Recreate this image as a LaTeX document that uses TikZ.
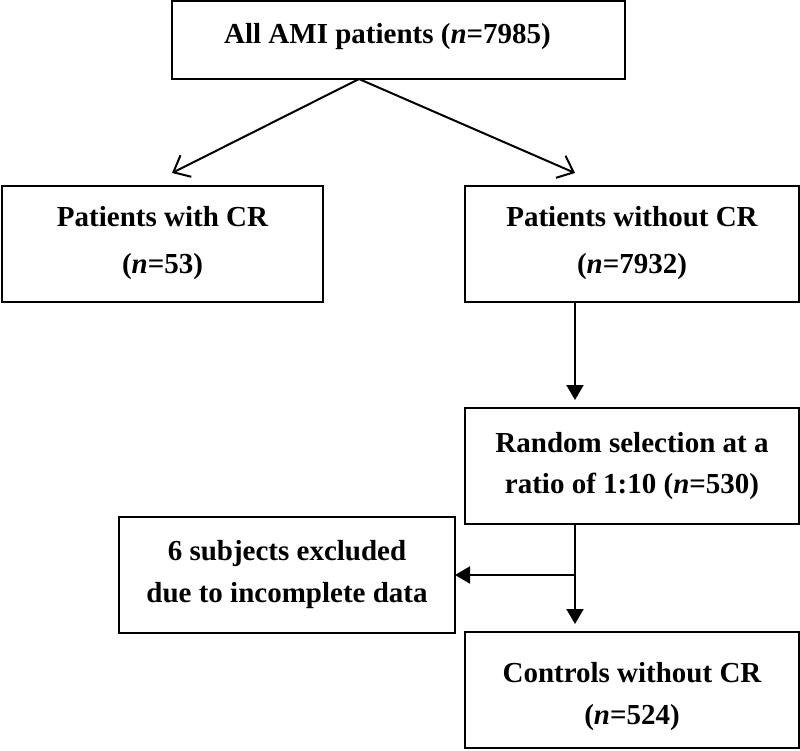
\documentclass[tikz,border=0pt]{standalone}
\usepackage{fontspec}
\setmainfont{Liberation Serif}
\usetikzlibrary{arrows.meta}
\begin{document}
\begin{tikzpicture}[x=1pt,y=-1pt,
  box/.style={draw, line width=2pt, minimum width=#1, minimum height=116pt, inner sep=0pt,
     align=center, font=\bfseries\fontsize{29}{47}\selectfont},
  conn/.style={line width=2pt},
  openarr/.style={conn, -{Straight Barb[length=14pt, width=24pt, line width=2pt]}},
  fillarr/.style={conn, -{Triangle[length=15pt, width=17pt]}}]
\useasboundingbox (0,0) rectangle (800,750);
\node[box=453pt, minimum height=78pt] (top) at (398.5,40) {\rule[-14pt]{0pt}{1pt}All AMI patients (\textit{n}=7985)\hspace*{22pt}};
\node[box=321pt] (left) at (162.5,243.5) {Patients with CR\\(\textit{n}=53)};
\node[box=334pt] (right) at (632,243.5) {Patients without CR\\(\textit{n}=7932)};
\node[box=334pt, font=\bfseries\fontsize{29}{41}\selectfont] (random) at (632,466) {Random selection at a\\ratio of 1:10 (\textit{n}=530)};
\node[box=336pt, font=\bfseries\fontsize{29}{42}\selectfont] (excl) at (287,575) {6 subjects excluded\\due to incomplete data};
\node[box=334pt, font=\bfseries\fontsize{29}{42}\selectfont] (controls) at (632,690) {\rule{0pt}{34pt}Controls without CR\\(\textit{n}=524)};
\coordinate (split) at (359,79);
\coordinate (tipL) at (172,173);
\coordinate (tipR) at (575,173);
\coordinate (col) at (575,0);
\draw[openarr] (split) -- (tipL);
\draw[openarr] (split) -- (tipR);
\draw[fillarr, shorten >=7pt] (right.south -| col) -- (random.north -| col);
\draw[fillarr, shorten >=7pt] (random.south -| col) -- (controls.north -| col);
\draw[fillarr, shorten >=-1pt] (excl.east -| col) -- (excl.east);
\end{tikzpicture}
\end{document}
